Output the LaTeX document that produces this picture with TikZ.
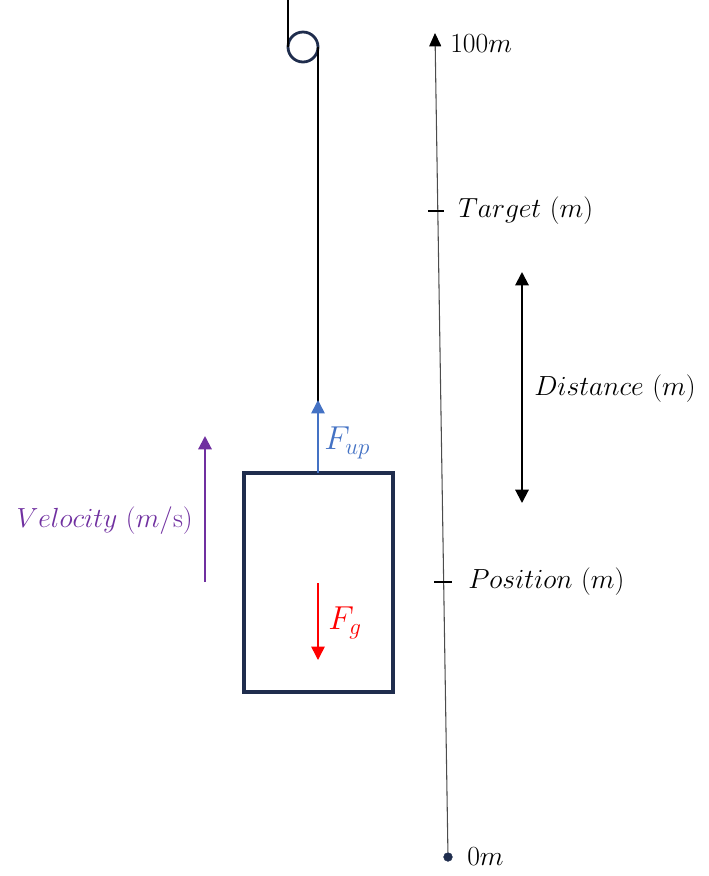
\documentclass[tikz,border=0pt]{standalone}
\usetikzlibrary{arrows.meta}
\definecolor{navy}{HTML}{1F2D4D}
\definecolor{fblue}{HTML}{4472C4}
\definecolor{vpurple}{HTML}{7030A0}
\tikzset{>={Triangle[length=10pt,width=10pt]}}
\tikzset{rope/.style={line width=2.1pt}}
\tikzset{lbl/.style={anchor=west,inner sep=0pt,font=\fontsize{21}{25}\selectfont}}
\tikzset{force/.style={lbl,font=\fontsize{24}{28}\selectfont}}
\tikzset{tickmark/.style={line width=1.6pt}}
\tikzset{dot/.style={circle,fill=navy,draw=navy,minimum size=6.5pt,inner sep=0pt}}

\begin{document}
\begin{tikzpicture}[x=0.75pt,y=-0.75pt]
\useasboundingbox (0,0) rectangle (709,876);

%%% Pulley and rope:

\coordinate (top) at (288,0);
\node[circle,draw=navy,line width=2.1pt,minimum size=22.5pt,inner sep=0pt,outer sep=0pt] (pulley) at (303,47) {};
\node[draw=navy,line width=2.6pt,minimum width=111.75pt,minimum height=164pt,inner sep=0pt,outer sep=0pt] (box) at (318.5,582.5) {};

\draw[rope] (top) -- (top |- pulley.west);
\draw[rope] (pulley.east) -- (pulley.east |- box.north);

%%% Forces:

\coordinate (fup) at (318,400);
\draw[fblue,line width=1.2pt,->] (box.north -| fup) -- (fup);
\node[force,text=fblue] (Fup) at (324,443) {$F_{up}$};

\coordinate (fg1) at (318,583);
\coordinate (fg2) at (318,660);
\draw[red,line width=1.1pt,->] (fg1) -- (fg2);
\node[force,text=red] (Fg) at (328,623) {$F_g$};

\coordinate (v1) at (205,582);
\coordinate (v2) at (205,436);
\draw[vpurple,line width=1.6pt,->] (v1) -- (v2);
\node[lbl,anchor=east,text=vpurple] (vel) at (193,521) {$Velocity\ (m/\mathrm{s})$};

%%% Position axis:

\node[dot] (zero) at (448,857) {};
\coordinate (axtop) at (435,33);
\draw[black!70,line width=0.8pt,-{Triangle[length=10pt,width=9pt,color=black]}] (zero) -- (axtop);
\node[lbl] (l100) at (450,44) {$100m$};
\node[lbl] (l0) at (467,857) {$0m$};

\coordinate (t1) at (428,211);
\coordinate (t2) at (444,211);
\draw[tickmark] (t1) -- (t2);
\node[lbl] (target) at (458,211) {$Target\ (m)$};

\coordinate (p1) at (434,582);
\coordinate (p2) at (452,582);
\draw[tickmark] (p1) -- (p2);
\node[lbl] (pos) at (468,582) {$Position\ (m)$};

%%% Distance:

\coordinate (d1) at (522,272);
\coordinate (d2) at (522,503);
\draw[line width=1.5pt,<->] (d1) -- (d2);
\node[lbl] (dist) at (534,389) {$Distance\ (m)$};

\end{tikzpicture}
\end{document}
